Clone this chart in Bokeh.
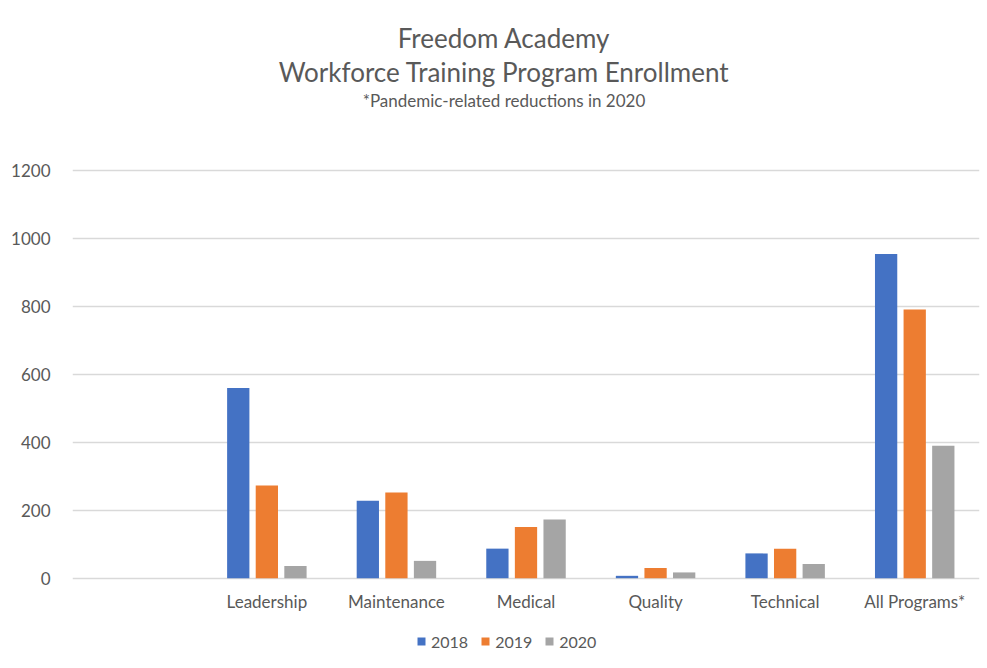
from bokeh.plotting import figure
from bokeh.models import (ColumnDataSource, FactorRange, Range1d, FixedTicker, Label,
                          Legend, LegendItem)
from bokeh.core.properties import value
from bokeh.transform import dodge
from bokeh.embed import file_html
from bokeh.resources import INLINE

# ---- data ----
axis_factors = [" ", "Leadership", "Maintenance", "Medical", "Quality", "Technical", "All Programs*"]
programs = ["Leadership", "Maintenance", "Medical", "Quality", "Technical", "All Programs*"]
years = ["2018", "2019", "2020"]
enroll_2018 = [560, 228, 87, 7, 73, 954]
enroll_2019 = [273, 252, 151, 30, 87, 791]
enroll_2020 = [36, 51, 173, 17, 42, 390]
y_ticks = [0, 200, 400, 600, 800, 1000, 1200]
title_lines = ["Freedom Academy", "Workforce Training Program Enrollment",
               "*Pandemic-related reductions in 2020"]

colors = ["#4472C4", "#ED7D31", "#A5A5A5"]
FONT = "Lato"
TXT = "#595959"

# layout constants (pixels)
W, H = 987, 668
LEFT, RIGHT = 72, 8
ZERO_PX = 577.7     # y of value 0, from figure top
TOP_PX = 170.0      # y of value 1200, from figure top
px_per_unit = (ZERO_PX - TOP_PX) / 1200.0
y_lo = -(H - ZERO_PX) / px_per_unit
y_hi = 1200 + TOP_PX / px_per_unit

source = ColumnDataSource(data=dict(cat=programs, y2018=enroll_2018, y2019=enroll_2019, y2020=enroll_2020))

p = figure(x_range=FactorRange(factors=axis_factors, range_padding=0),
           y_range=Range1d(y_lo, y_hi),
           width=W, height=H,
           min_border_left=LEFT, min_border_right=RIGHT, min_border_top=0, min_border_bottom=0,
           output_backend="svg", toolbar_location=None, title=None)

offsets = [-0.2207, 0.0, 0.2207]
renderers = []
for yr, off, col in zip(years, offsets, colors):
    r = p.vbar(x=dodge("cat", off, range=p.x_range), top="y" + yr, bottom=0, width=0.172,
               source=source, fill_color=col, line_color=None)
    renderers.append(r)

# category labels below the zero line
lab_y = -(600.5 - ZERO_PX) / px_per_unit
p.text(x=programs, y=[lab_y] * len(programs), text=programs,
       text_font=value(FONT), text_font_size="17px", text_color=TXT,
       text_align="center", text_baseline="middle")

# titles (screen units relative to frame bottom-left)
cx = 503.5 - LEFT
for txt, yc, fs in zip(title_lines, [H - 37.5, H - 71.5, H - 99.5], ["26px", "26px", "17px"]):
    p.add_layout(Label(x=cx, y=yc, x_units="screen", y_units="screen", text=txt,
                       text_font=FONT, text_font_size=fs, text_color=TXT,
                       text_align="center", text_baseline="middle"))

# axes
p.xaxis.visible = False
p.yaxis.ticker = FixedTicker(ticks=y_ticks)
p.yaxis.axis_line_color = None
p.yaxis.major_tick_line_color = None
p.yaxis.minor_tick_line_color = None
p.yaxis.major_label_standoff = 16
p.yaxis.major_label_text_font = FONT
p.yaxis.major_label_text_font_size = "17px"
p.yaxis.major_label_text_color = TXT

p.xgrid.grid_line_color = None
p.ygrid.ticker = FixedTicker(ticks=y_ticks)
p.ygrid.grid_line_color = "#D9D9D9"
p.ygrid.grid_line_width = 1.5
p.outline_line_color = None

legend = Legend(items=[LegendItem(label=yr, renderers=[r]) for yr, r in zip(years, renderers)],
                orientation="horizontal", location=(416 - LEFT, H - 651),
                glyph_width=10, glyph_height=10, label_standoff=5, spacing=12,
                label_height=20,
                label_text_font=FONT, label_text_font_size="16px", label_text_color=TXT,
                background_fill_alpha=0, border_line_color=None, padding=0, margin=0)
p.add_layout(legend, "center")

open("out.html", "w").write(file_html(p, INLINE))
